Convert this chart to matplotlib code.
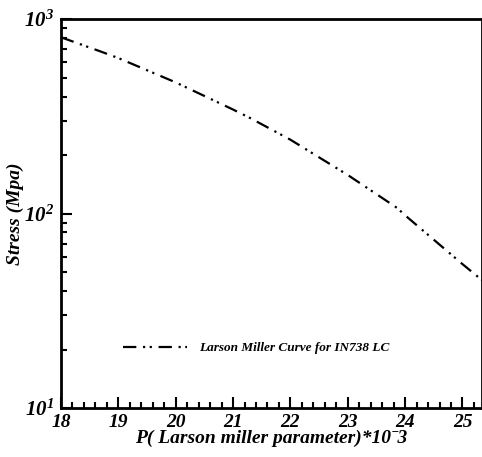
import matplotlib
matplotlib.use("Agg")
import matplotlib.pyplot as plt
from matplotlib.ticker import FixedLocator, FixedFormatter, LogLocator, NullFormatter, MultipleLocator

# Larson-Miller curve
p_values = [18.0, 18.68, 19.0, 20.0, 21.0, 21.3, 22.0, 23.0, 23.86, 24.0, 25.0, 25.34]
stress = [807, 684, 631, 473, 343, 310, 240, 158, 107, 98, 55, 45.5]
x_ticks = [18, 19, 20, 21, 22, 23, 24, 25]
y_ticks = [10, 100, 1000]
y_tick_labels = [r"$\mathbf{10^{1}}$", r"$\mathbf{10^{2}}$", r"$\mathbf{10^{3}}$"]

plt.rcParams['font.family'] = 'Liberation Serif'
plt.rcParams['font.weight'] = 'bold'
plt.rcParams['font.style'] = 'italic'
plt.rcParams['axes.labelweight'] = 'bold'
plt.rcParams['mathtext.fontset'] = 'custom'
plt.rcParams['mathtext.rm'] = 'Liberation Serif:bold:italic'
plt.rcParams['mathtext.it'] = 'Liberation Serif:bold:italic'
plt.rcParams['mathtext.bf'] = 'Liberation Serif:bold:italic'

fig = plt.figure(figsize=(4.82, 4.57), dpi=100)
ax = fig.add_axes([0.1266, 0.107, 0.8734, 0.851])

ax.plot(p_values, stress, color='black', linewidth=1.6,
        linestyle=(0, (6, 3, 1, 2, 1, 3)),
        label='Larson Miller Curve for IN738 LC')

ax.set_yscale('log')
ax.set_xlim(18, 25.34)
ax.set_ylim(10, 1000)

ax.xaxis.set_major_locator(FixedLocator(x_ticks))
ax.xaxis.set_minor_locator(MultipleLocator(0.2))
ax.yaxis.set_major_locator(FixedLocator(y_ticks))
ax.yaxis.set_major_formatter(FixedFormatter(y_tick_labels))
ax.yaxis.set_minor_locator(LogLocator(base=10, subs=range(2, 10)))
ax.yaxis.set_minor_formatter(NullFormatter())

ax.tick_params(which='both', direction='in', top=False, right=False, width=1.5)
ax.tick_params(which='major', length=8)
ax.tick_params(which='minor', length=4)
ax.tick_params(axis='x', labelsize=14, pad=4)
ax.tick_params(axis='y', labelsize=15, pad=5)
for lbl in ax.get_xticklabels():
    lbl.set_fontstyle('italic')
    lbl.set_fontweight('bold')

for s in ax.spines.values():
    s.set_linewidth(2)

ax.set_xlabel('P( Larson miller parameter)*10ˉ3', fontsize=14,
              fontweight='bold', fontstyle='italic', labelpad=-1)
ax.set_ylabel('Stress (Mpa)', fontsize=14, fontweight='bold',
              fontstyle='italic', labelpad=0)

ax.legend(loc='lower left', bbox_to_anchor=(0.12, 0.108), frameon=False,
          prop={'size': 9.5, 'weight': 'bold', 'style': 'italic'},
          handlelength=4.8, handletextpad=0.9)

plt.savefig('out.png', dpi=100)
